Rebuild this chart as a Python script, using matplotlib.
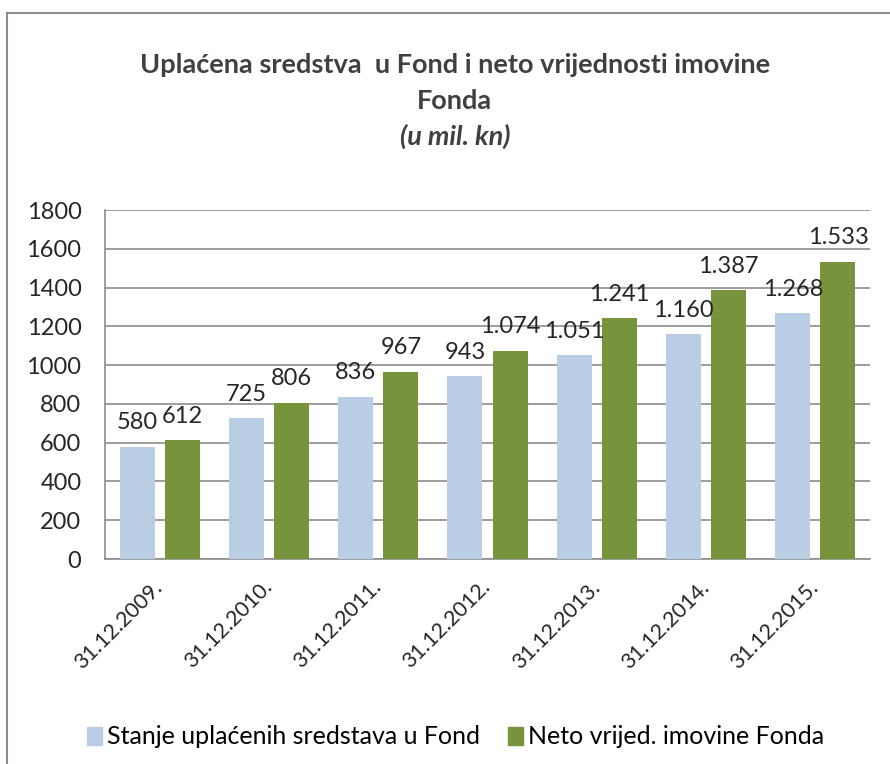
import matplotlib
matplotlib.use("Agg")
import matplotlib.pyplot as plt
import numpy as np
from matplotlib.patches import Rectangle
from matplotlib.lines import Line2D

categories = ["31.12.2009.", "31.12.2010.", "31.12.2011.", "31.12.2012.",
              "31.12.2013.", "31.12.2014.", "31.12.2015."]
uplacena = [580, 725, 836, 943, 1051, 1160, 1268]
neto = [612, 806, 967, 1074, 1241, 1387, 1533]
series_names = ["Stanje uplaćenih sredstava u Fond", "Neto vrijed. imovine Fonda"]
yticks = [0, 200, 400, 600, 800, 1000, 1200, 1400, 1600, 1800]

FONT = "Lato"
plt.rcParams['font.family'] = [FONT, 'DejaVu Sans']

c_blue = "#B9CDE5"
c_green = "#77933C"
c_text = "#262626"

fig = plt.figure(figsize=(8.9, 7.64), dpi=100)
ax = fig.add_axes([0.118, 0.2683, 0.9775 - 0.118, 0.725 - 0.2683])

x = np.arange(len(categories))
w = 0.32
off = 0.207
ax.bar(x - off, uplacena, w, color=c_blue, zorder=3)
ax.bar(x + off, neto, w, color=c_green, zorder=3)

def fmt(v):
    return f"{v:,}".replace(",", ".")

for xi, v in zip(x, uplacena):
    ax.text(xi - off, v + 70, fmt(v), ha="center", va="bottom", fontsize=17, color=c_text, zorder=4)
for xi, v in zip(x, neto):
    ax.text(xi + off, v + 70, fmt(v), ha="center", va="bottom", fontsize=17, color=c_text, zorder=4)

ax.set_xlim(-0.5, len(categories) - 0.5)
ax.set_ylim(0, 1800)
ax.set_yticks(yticks)
ax.set_yticklabels([str(t) for t in yticks], fontsize=17, color=c_text)
ax.set_xticks(x)
ax.set_xticklabels(categories, rotation=45, ha="right", va="center", rotation_mode="anchor",
                   fontsize=15.5, color=c_text)
ax.tick_params(axis="both", length=0)
ax.tick_params(axis="y", pad=17)
ax.tick_params(axis="x", pad=18)
ax.yaxis.grid(True, color="#8C8C8C", linewidth=1.2, zorder=0)
ax.set_axisbelow(True)
for s in ["top", "right"]:
    ax.spines[s].set_visible(False)
for s in ["left", "bottom"]:
    ax.spines[s].set_color("#8C8C8C")
    ax.spines[s].set_linewidth(1.2)

tx = 0.511
fig.text(tx, 1 - 65 / 764, "Uplaćena sredstva  u Fond i neto vrijednosti imovine",
         ha="center", va="center", fontsize=19.5, fontweight="bold", color="#404040")
fig.text(tx, 1 - 101 / 764, "Fonda", ha="center", va="center", fontsize=19.5,
         fontweight="bold", color="#404040")
fig.text(tx, 1 - 136 / 764, "(u mil. kn)", ha="center", va="center", fontsize=19.5,
         fontweight="bold", fontstyle="italic", color="#404040")

handles = [Rectangle((0, 0), 1, 1, color=c_blue), Rectangle((0, 0), 1, 1, color=c_green)]
fig.legend(handles, series_names, loc="center", bbox_to_anchor=(0.512, 1 - 737 / 764),
           ncol=2, frameon=False, fontsize=18, handlelength=0.6, handleheight=0.7,
           handletextpad=0.2, columnspacing=1.1, borderpad=0, borderaxespad=0)

# outer frame
fig.add_artist(Line2D([7 / 890, 7 / 890], [0, 1 - 13 / 764], transform=fig.transFigure,
                      color="#8C8C8C", linewidth=1.5))
fig.add_artist(Line2D([7 / 890, 1], [1 - 13 / 764, 1 - 13 / 764], transform=fig.transFigure,
                      color="#8C8C8C", linewidth=1.5))

fig.savefig("out.png", dpi=100, facecolor="white")
